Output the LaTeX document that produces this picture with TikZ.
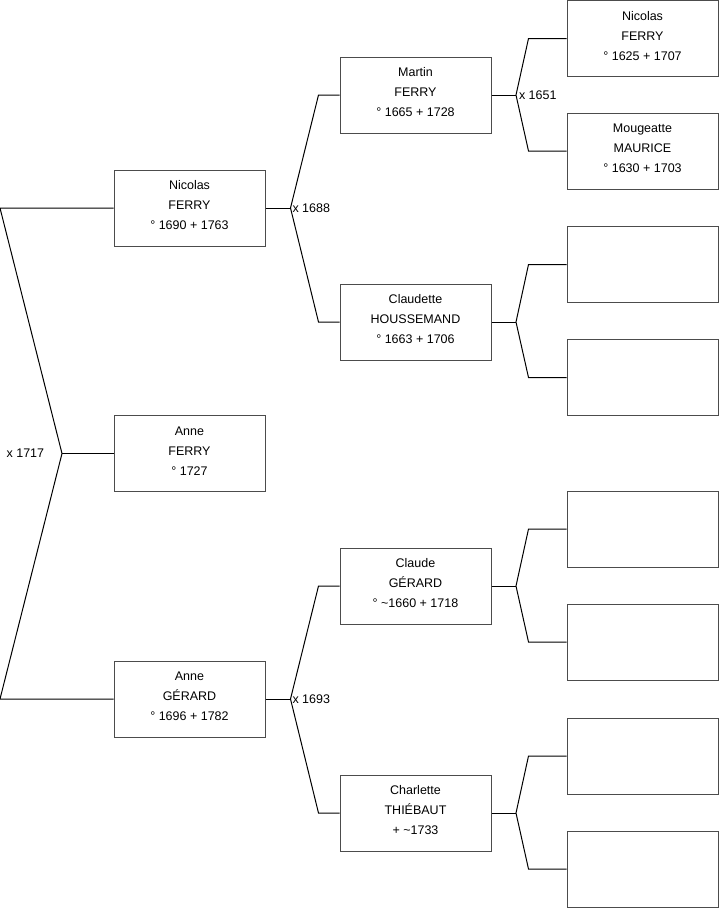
\documentclass[tikz,border=0pt]{standalone}
\usepackage{fontspec}
\setmainfont{Liberation Sans}
\usetikzlibrary{calc}

\newcommand{\treefont}{\fontsize{12.5}{20}\selectfont}
\tikzset{
    person/.style={draw=black!70, line width=1pt, minimum width=151pt, minimum height=76pt,
        inner sep=0pt, align=center, text depth=5.5pt, font=\treefont},
    every label/.style={font=\treefont}
}

\begin{document}
\begin{tikzpicture}[x=1pt, y=-1pt, line width=1pt]
        \useasboundingbox(0,0)rectangle(719,908);
        \coordinate(O)at(0,0);
        % generation 1 and 2
        \node[person](nicolas)at(189.5,208){Nicolas\\FERRY\\° 1690 + 1763};
        \node[person](annef)at(189.5,453.5){Anne\\FERRY\\° 1727};
        \node[person](anneg)at(189.5,699){Anne\\GÉRARD\\° 1696 + 1782};
        % generation 3
        \node[person](martin)at(415.5,95){Martin\\FERRY\\° 1665 + 1728};
        \node[person](claudette)at(415.5,322){Claudette\\HOUSSEMAND\\° 1663 + 1706};
        \node[person](claude)at(415.5,586){Claude\\GÉRARD\\° \textasciitilde1660 + 1718};
        \node[person](charlette)at(415.5,813){Charlette\\THIÉBAUT\\+ \textasciitilde1733};
        % generation 4
        \node[person](nicolas2)at(642.5,38.5){Nicolas\\FERRY\\° 1625 + 1707};
        \node[person](mougeatte)at(642.5,151){Mougeatte\\MAURICE\\° 1630 + 1703};
        \foreach \n/\y in {e1/264.5, e2/377.5, e3/529, e4/642, e5/756, e6/869}
        {
            \node[person](\n)at(642.5,\y){};
        }
        % junctions
        \coordinate[label={[label distance=14pt]left:x 1717}](m1)at(62,453.5);
        \coordinate[label={[inner sep=1.5pt]right:x 1688}](m2)at(290.5,208);
        \coordinate[label={[inner sep=1.5pt]right:x 1693}](m5)at(290.5,699);
        \coordinate[label={[inner sep=2.5pt]right:x 1651}](m3)at(516,95);
        \coordinate(m4)at(516,322);
        \coordinate(m6)at(516,586);
        \coordinate(m7)at(516,813);
        % forks
        \path[draw](nicolas.west)--(nicolas.west -| O)--(m1)--(anneg.west -| O)--(anneg.west);
        \path[draw](m1)--(annef.west);
        \path[draw](martin.west)--([xshift=-21pt]martin.west)--(m2)--([xshift=-21pt]claudette.west)--(claudette.west);
        \path[draw](nicolas.east)--(m2);
        \path[draw](claude.west)--([xshift=-21pt]claude.west)--(m5)--([xshift=-21pt]charlette.west)--(charlette.west);
        \path[draw](anneg.east)--(m5);
        \path[draw](nicolas2.west)--([xshift=-38pt]nicolas2.west)--(m3)--([xshift=-38pt]mougeatte.west)--(mougeatte.west);
        \path[draw](martin.east)--(m3);
        \path[draw](e1.west)--([xshift=-38pt]e1.west)--(m4)--([xshift=-38pt]e2.west)--(e2.west);
        \path[draw](claudette.east)--(m4);
        \path[draw](e3.west)--([xshift=-38pt]e3.west)--(m6)--([xshift=-38pt]e4.west)--(e4.west);
        \path[draw](claude.east)--(m6);
        \path[draw](e5.west)--([xshift=-38pt]e5.west)--(m7)--([xshift=-38pt]e6.west)--(e6.west);
        \path[draw](charlette.east)--(m7);
\end{tikzpicture}
\end{document}
